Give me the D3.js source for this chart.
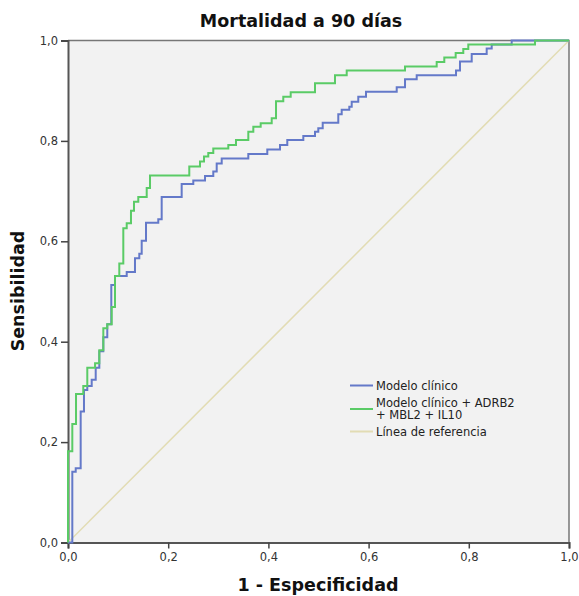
<!DOCTYPE html>
<html><head><meta charset="utf-8">
<script src="https://cdn.jsdelivr.net/npm/d3@7"></script>
<style>body{margin:0;background:#fff}svg{display:block}</style>
</head><body><svg id="c" width="579" height="596"></svg>
<script>
const title = "Mortalidad a 90 días";
const xLabel = "1 - Especificidad";
const yLabel = "Sensibilidad";
const tickValues = [0, 0.2, 0.4, 0.6, 0.8, 1.0];
const seriesNames = ["Modelo clínico", "Modelo clínico + ADRB2\n+ MBL2 + IL10", "Línea de referencia"];
// ROC points: (1 - especificidad, sensibilidad), drawn as steps
const clinicoFpr = [0,0.0086,0.0154,0.0253,0.0319,0.0385,0.0473,0.0553,0.0625,0.0705,0.0784,0.0864,0.0938,0.1172,0.1337,0.1423,0.1471,0.1557,0.1802,0.1870,0.2269,0.2501,0.2735,0.2900,0.2968,0.3068,0.3599,0.3978,0.4232,0.4377,0.4697,0.4930,0.4996,0.5084,0.5395,0.5463,0.5615,0.5663,0.5794,0.5948,0.6561,0.6727,0.6960,0.7745,0.7824,0.8058,0.8357,0.8457,0.8856,1.0];
const clinicoTpr = [0,0.141,0.148,0.261,0.304,0.312,0.324,0.348,0.381,0.409,0.435,0.513,0.531,0.539,0.566,0.575,0.601,0.637,0.644,0.688,0.714,0.721,0.730,0.739,0.755,0.765,0.774,0.783,0.792,0.802,0.810,0.818,0.825,0.836,0.853,0.862,0.868,0.878,0.888,0.898,0.907,0.923,0.931,0.940,0.958,0.973,0.984,0.992,1.0,1.0];
const geneticoFpr = [0,0,0.0086,0.016,0.0305,0.0385,0.054,0.0625,0.0705,0.0784,0.0872,0.0938,0.1024,0.1104,0.1172,0.1257,0.1317,0.1403,0.1571,0.1637,0.2421,0.2635,0.2715,0.2800,0.2900,0.3200,0.3353,0.3599,0.3699,0.3846,0.4066,0.4152,0.4297,0.4445,0.4930,0.5329,0.5563,0.6727,0.7359,0.7511,0.7738,0.7890,0.7990,0.9321,1.0];
const geneticoTpr = [0,0.182,0.236,0.296,0.312,0.348,0.357,0.383,0.427,0.435,0.469,0.531,0.556,0.626,0.636,0.661,0.679,0.688,0.706,0.731,0.749,0.759,0.769,0.776,0.785,0.792,0.802,0.818,0.828,0.835,0.845,0.879,0.888,0.897,0.915,0.931,0.940,0.948,0.957,0.966,0.975,0.983,0.992,1.0,1.0];
const refX = [0, 1];
const refY = [0, 1];
const colors = ["#6479c9", "#5acb66", "#e2dcb4"];

const svg = d3.select("#c");
const L = 68, R = 569, T = 40.5, B = 542.5;
const x = d3.scaleLinear().domain([0,1]).range([L,R]);
const y = d3.scaleLinear().domain([0,1]).range([B,T]);
const fmt = d => d3.format(".1f")(d).replace(".", ",");
const font = "'DejaVu Sans', Verdana, sans-serif";

svg.append("rect").attr("x",L).attr("y",T).attr("width",R-L).attr("height",B-T).attr("fill","#f2f2f2");
// frame top/right
svg.append("path").attr("d",`M${L},${T}H${R}V${B}`).attr("fill","none").attr("stroke","#777").attr("stroke-width",1.5);

const xAxis = svg.append("g").attr("transform",`translate(0,${B})`)
  .call(d3.axisBottom(x).tickValues(tickValues).tickFormat(fmt).tickSize(6).tickPadding(4));
const yAxis = svg.append("g").attr("transform",`translate(${L},0)`)
  .call(d3.axisLeft(y).tickValues(tickValues).tickFormat(fmt).tickSize(7).tickPadding(3));
[xAxis,yAxis].forEach(g=>{
  g.select(".domain").attr("stroke","#555").attr("stroke-width",2);
  g.selectAll(".tick line").attr("stroke","#444").attr("stroke-width",1.5);
  g.selectAll(".tick text").attr("fill","#333").style("font-family",font).style("font-size","11.5px");
});

const line = d3.line().x(d=>x(d[0])).y(d=>y(d[1]));
const step = d3.line().x(d=>x(d[0])).y(d=>y(d[1])).curve(d3.curveStepAfter);
svg.append("path").datum(d3.zip(refX,refY)).attr("d",line).attr("fill","none").attr("stroke",colors[2]).attr("stroke-width",1.5);
svg.append("path").datum(d3.zip(clinicoFpr,clinicoTpr)).attr("d",step).attr("fill","none").attr("stroke",colors[0]).attr("stroke-width",2);
svg.append("path").datum(d3.zip(geneticoFpr,geneticoTpr)).attr("d",step).attr("fill","none").attr("stroke",colors[1]).attr("stroke-width",2);

svg.append("text").attr("x",301).attr("y",27).attr("text-anchor","middle")
  .style("font-family",font).style("font-weight","bold").style("font-size","17.5px").attr("fill","#111").text(title);
svg.append("text").attr("x",318).attr("y",591).attr("text-anchor","middle")
  .style("font-family",font).style("font-weight","bold").style("font-size","17.5px").attr("fill","#111").text(xLabel);
svg.append("text").attr("transform","translate(24,291) rotate(-90)").attr("text-anchor","middle")
  .style("font-family",font).style("font-weight","bold").style("font-size","17.5px").attr("fill","#111").text(yLabel);

// legend
const lg = svg.append("g");
const rowsY = [385.5, 409, 431.5];
const textY = [[389.5],[406.5,419],[436]];
seriesNames.forEach((n,i)=>{
  lg.append("line").attr("x1",350).attr("x2",373).attr("y1",rowsY[i]).attr("y2",rowsY[i])
    .attr("stroke",colors[i]).attr("stroke-width",2);
  n.split("\n").forEach((t,j)=>{
    lg.append("text").attr("x",376).attr("y",textY[i][j]).style("font-family",font)
      .style("font-size","11.5px").attr("fill","#222").text(t);
  });
});
</script></body></html>
